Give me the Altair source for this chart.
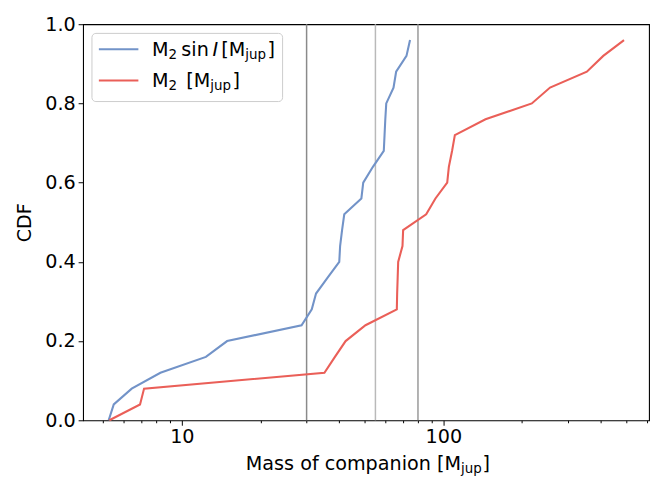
import altair as alt
import pandas as pd

# ---------------- data ----------------
cdf_values = [0.00, 0.04, 0.08, 0.12, 0.16, 0.20, 0.24, 0.28, 0.32, 0.36, 0.40, 0.44,
              0.48, 0.52, 0.56, 0.60, 0.64, 0.68, 0.72, 0.76, 0.80, 0.84, 0.88, 0.92, 0.96]
mass_sini = [5.25, 5.49, 6.43, 8.28, 12.36, 14.9, 28.7, 31.4, 32.6, 36.1, 40.0, 40.3,
             41.0, 41.8, 48.6, 49.4, 53.8, 59.2, 59.6, 60.0, 60.5, 64.5, 66.0, 72.3, 74.6]
mass_true = [5.28, 6.92, 7.17, 35.1, 38.5, 42.3, 50.4, 66.4, 66.6, 66.9, 67.2, 69.8,
             70.2, 86.0, 93.3, 103.5, 105.0, 108.0, 110.7, 145.0, 218.0, 256.0, 354.0, 409.0, 491.0]
series_names = ["M2 sin I", "M2"]
series_colors = ["#7293c8", "#ea5f58"]

ref_masses = [30, 55, 80]
ref_colors = ["#8a8a8a", "#b9b9b9", "#999999"]

x_major = [10, 100]
x_minor = [5, 6, 7, 8, 9, 20, 30, 40, 50, 60, 70, 80, 90, 200, 300, 400, 500, 600]
y_ticks = [0.0, 0.2, 0.4, 0.6, 0.8, 1.0]

rows = []
for name, masses in zip(series_names, [mass_sini, mass_true]):
    for c, m in zip(cdf_values, masses):
        rows.append({"series": name, "mass": m, "cdf": c})
df = pd.DataFrame(rows)
ref_df = pd.DataFrame({"mass": ref_masses, "col": ref_colors})
one = pd.DataFrame({"a": [0]})

FS = 19.4
SUB = 13.6
FONT = "DejaVu Sans"

x_scale = alt.Scale(type="log", domain=[4.19, 612], nice=False)
y_scale = alt.Scale(domain=[0, 1], nice=False, zero=False)

major_test = "datum.value == 10 || datum.value == 100"
x_axis = alt.Axis(values=x_major + x_minor,
                  labelExpr=f"({major_test}) ? format(datum.value, 'd') : ''",
                  tickSize={"condition": {"test": major_test, "value": 5}, "value": 2.5},
                  labelOverlap=False, labelFlush=False, labelPadding=3,
                  labelFontSize=FS, title=None, grid=False, domain=False,
                  tickColor="black", labelColor="black")
y_axis = alt.Axis(values=y_ticks, format=".1f", tickSize=5, labelPadding=3,
                  labelFontSize=FS, title="CDF", titleFontSize=FS,
                  titleFontWeight="normal", titlePadding=10, grid=False,
                  domain=False, tickColor="black", labelColor="black",
                  titleColor="black")

rules = alt.Chart(ref_df).mark_rule(strokeWidth=1.5).encode(
    x=alt.X("mass:Q", scale=x_scale, axis=x_axis),
    color=alt.Color("col:N", scale=None, legend=None),
)

lines = alt.Chart(df).mark_line(strokeWidth=2.1).encode(
    x=alt.X("mass:Q", scale=x_scale, axis=x_axis),
    y=alt.Y("cdf:Q", scale=y_scale, axis=y_axis),
    color=alt.Color("series:N", scale=alt.Scale(domain=series_names, range=series_colors),
                    legend=None),
    order=alt.Order("cdf:Q"),
)

layers = [rules, lines]

def txt(t, x, y, size=FS, style="normal"):
    return alt.Chart(one).mark_text(
        text=t, x=x, y=y, fontSize=size, font=FONT, fontStyle=style,
        align="left", baseline="alphabetic", color="black"
    ).encode(opacity=alt.value(1))

# x-axis title: Mass of companion [M_jup]
tb = 451.8
layers += [txt("Mass of companion [M", 164.8, tb),
           txt("jup", 382.7, tb + 3, SUB),
           txt("]", 404.5, tb)]

# legend box
layers.append(alt.Chart(one).mark_rect(
    x=9, x2=202, y=9.3, y2=78.3, fill="white", fillOpacity=0.8,
    stroke="#cccccc", strokeWidth=1, cornerRadius=4
).encode(opacity=alt.value(1)))

# legend symbols
for yy, col in zip([25.3, 57.0], series_colors):
    layers.append(alt.Chart(one).mark_rule(strokeWidth=2.1, color=col).encode(
        x=alt.value(16), x2=alt.value(56), y=alt.value(yy)))

# legend labels
r1, r2 = 32.6, 63.6
layers += [
    txt("M", 69.8, r1), txt("2", 86.5, r1 + 2.5, SUB), txt("sin", 99.5, r1),
    txt("I", 131.0, r1, FS, "italic"), txt("[M", 140.0, r1),
    txt("jup", 164.3, r1 + 2.5, SUB), txt("]", 186.8, r1),
    txt("M", 69.8, r2), txt("2", 86.5, r2 + 2.5, SUB), txt("[M", 104.5, r2),
    txt("jup", 128.8, r2 + 2.5, SUB), txt("]", 151.3, r2),
]

chart = alt.layer(*layers).properties(
    width=573, height=401,
    autosize=alt.AutoSizeParams(type="none"),
    padding={"left": 76, "top": 13.5, "right": 2, "bottom": 54.5},
).configure(font=FONT).configure_view(stroke="black", strokeWidth=1.1)

chart.save("out.html", embed_options={"renderer": "svg", "actions": False})
